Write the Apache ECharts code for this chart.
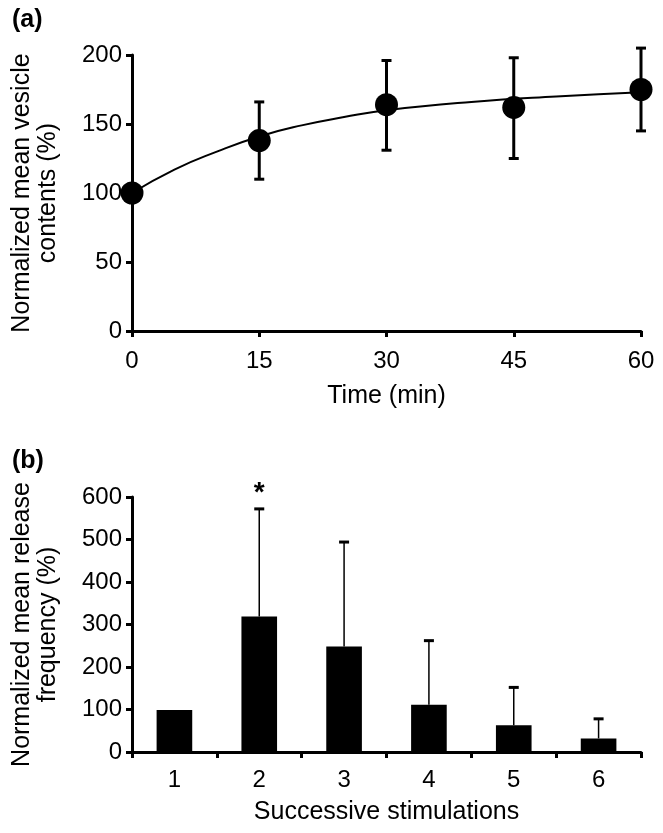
<!DOCTYPE html>
<html>
<head>
<meta charset="utf-8">
<script src="https://cdn.jsdelivr.net/npm/echarts@6/dist/echarts.min.js"></script>
<style>
html,body{margin:0;padding:0;background:#fff;}
#chart{width:663px;height:833px;}
</style>
</head>
<body>
<div id="chart"></div>
<script>
// Panel (a): vesicle contents over time
var timePoints = [0, 15, 30, 45, 60];
var meanContents = [100, 138, 164, 162, 175];
var contentsUpper = [100, 166, 196, 198, 205];
var contentsLower = [100, 110, 131, 125, 145];
// fitted curve
var fitTime = [0, 5, 10, 15, 20, 25, 30, 40, 50, 60];
var fitValue = [100, 117, 130, 141, 149, 155, 160, 166, 170, 173];
var timeTicks = [0, 15, 30, 45, 60];

// Panel (b): release frequency per stimulation
var stimCategories = ['1', '2', '3', '4', '5', '6'];
var releaseFreq = [99, 319, 248, 111, 63, 32];
var releaseUpper = [null, 572, 494, 262, 152, 78];
var sigCategory = ['2'];
var sigLevel = [623];
var sigMark = ['*'];

var FONT = 'Liberation Sans, Arial, sans-serif';
var chart = echarts.init(document.getElementById('chart'), null, {renderer: 'canvas'});

function errA(params, api) {
  var x = api.value(0), lo = api.value(1), hi = api.value(2);
  var pLo = api.coord([x, lo]), pHi = api.coord([x, hi]);
  var hw = 5;
  var st = {stroke: '#000', lineWidth: 3};
  return {type: 'group', children: [
    {type: 'line', shape: {x1: pLo[0], y1: pLo[1], x2: pHi[0], y2: pHi[1]}, style: st},
    {type: 'line', shape: {x1: pHi[0] - hw, y1: pHi[1], x2: pHi[0] + hw, y2: pHi[1]}, style: st},
    {type: 'line', shape: {x1: pLo[0] - hw, y1: pLo[1], x2: pLo[0] + hw, y2: pLo[1]}, style: st}
  ]};
}
function errB(params, api) {
  var hi = api.value(2);
  if (hi == null || isNaN(hi)) return null;
  var pLo = api.coord([api.value(0), api.value(1)]), pHi = api.coord([api.value(0), hi]);
  var hw = 5;
  return {type: 'group', children: [
    {type: 'line', shape: {x1: pLo[0], y1: pLo[1], x2: pHi[0], y2: pHi[1]}, style: {stroke: '#000', lineWidth: 1.5}},
    {type: 'line', shape: {x1: pHi[0] - hw, y1: pHi[1], x2: pHi[0] + hw, y2: pHi[1]}, style: {stroke: '#000', lineWidth: 3}}
  ]};
}
function sigRender(params, api) {
  var p = api.coord([api.value(0), api.value(1)]);
  return {type: 'text', style: {text: sigMark[params.dataIndex], x: p[0], y: p[1] + 6, textAlign: 'center', textVerticalAlign: 'middle', font: 'bold 28px ' + FONT, fill: '#000'}};
}

var axisLineA = {show: true, lineStyle: {color: '#000', width: 3}};
var tickA = {show: true, length: 6, lineStyle: {color: '#000', width: 3}};
var labelStyle = {color: '#000', fontSize: 24, fontFamily: FONT};
var nameStyle = {color: '#000', fontSize: 25, fontFamily: FONT, lineHeight: 26};

var option = {
  backgroundColor: '#fff',
  animation: false,
  graphic: [
    {type: 'text', left: 12, top: 8, style: {text: '(a)', font: 'bold 25px ' + FONT, fill: '#000'}},
    {type: 'text', left: 12, top: 449, style: {text: '(b)', font: 'bold 25px ' + FONT, fill: '#000'}}
  ],
  grid: [
    {left: 132, width: 509, top: 55, height: 276},
    {left: 132, width: 509, top: 497, height: 255}
  ],
  xAxis: [
    {gridIndex: 0, type: 'value', min: 0, max: 60, interval: 15,
     name: 'Time (min)', nameLocation: 'middle', nameGap: 52, nameTextStyle: nameStyle,
     axisLine: axisLineA, axisTick: tickA, splitLine: {show: false},
     axisLabel: Object.assign({margin: 18, lineHeight: 24, customValues: timeTicks}, labelStyle)},
    {gridIndex: 1, type: 'category', data: stimCategories,
     name: 'Successive stimulations', nameLocation: 'middle', nameGap: 47, nameTextStyle: nameStyle,
     axisLine: axisLineA, axisTick: tickA, splitLine: {show: false},
     axisLabel: Object.assign({margin: 16, lineHeight: 24}, labelStyle)}
  ],
  yAxis: [
    {gridIndex: 0, type: 'value', min: 0, max: 200, interval: 50,
     name: 'Normalized mean vesicle\ncontents (%)', nameLocation: 'middle', nameGap: 71, nameRotate: 90, nameTextStyle: nameStyle,
     axisLine: axisLineA, axisTick: tickA, splitLine: {show: false},
     axisLabel: Object.assign({margin: 10}, labelStyle)},
    {gridIndex: 1, type: 'value', min: 0, max: 600, interval: 100,
     name: 'Normalized mean release\nfrequency (%)', nameLocation: 'middle', nameGap: 71, nameRotate: 90, nameTextStyle: nameStyle,
     axisLine: axisLineA, axisTick: tickA, splitLine: {show: false},
     axisLabel: Object.assign({margin: 10}, labelStyle)}
  ],
  series: [
    {type: 'line', xAxisIndex: 0, yAxisIndex: 0, smooth: true, showSymbol: false, z: 2,
     lineStyle: {color: '#000', width: 2}, data: fitTime.map(function (t, i) { return [t, fitValue[i]]; })},
    {type: 'custom', xAxisIndex: 0, yAxisIndex: 0, renderItem: errA, z: 3, clip: false,
     data: timePoints.map(function (t, i) { return [t, contentsLower[i], contentsUpper[i]]; })},
    {type: 'scatter', xAxisIndex: 0, yAxisIndex: 0, symbol: 'circle', symbolSize: 23, z: 4, clip: false,
     itemStyle: {color: '#000', opacity: 1}, data: timePoints.map(function (t, i) { return [t, meanContents[i]]; })},
    {type: 'bar', xAxisIndex: 1, yAxisIndex: 1, barWidth: '42%', itemStyle: {color: '#000'}, z: 2,
     data: releaseFreq},
    {type: 'custom', xAxisIndex: 1, yAxisIndex: 1, renderItem: errB, z: 3, clip: false,
     data: stimCategories.map(function (c, i) { return [i, releaseFreq[i], releaseUpper[i]]; })},
    {type: 'custom', xAxisIndex: 1, yAxisIndex: 1, renderItem: sigRender, z: 5, clip: false,
     data: sigCategory.map(function (c, i) { return [stimCategories.indexOf(c), sigLevel[i]]; })}
  ]
};
chart.setOption(option);
</script>
</body>
</html>
